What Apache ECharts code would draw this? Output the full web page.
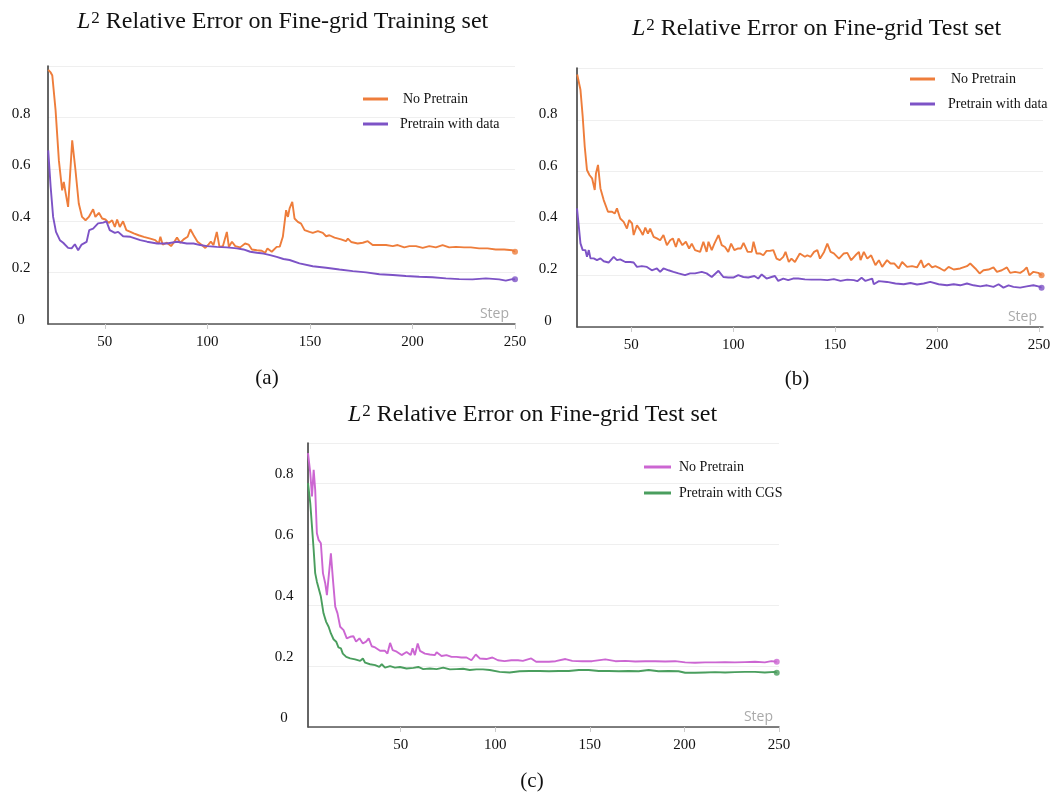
<!DOCTYPE html>
<html>
<head>
<meta charset="utf-8">
<script src="https://cdn.jsdelivr.net/npm/echarts@6/dist/echarts.min.js"></script>
<style>
html,body{margin:0;padding:0;background:#fff;}
#chart{width:1057px;height:795px;}
</style>
</head>
<body>
<div id="chart"></div>
<script>
// ---------- DATA ----------
const stepTicks = [50, 100, 150, 200, 250];
const yTicks = [0, 0.2, 0.4, 0.6, 0.8];

const titleA = 'Relative Error on Fine-grid Training set';
const titleB = 'Relative Error on Fine-grid Test set';
const titleC = 'Relative Error on Fine-grid Test set';
const captions = ['(a)', '(b)', '(c)'];
const legendNames = {
  'a-np': 'No Pretrain', 'a-pd': 'Pretrain with data',
  'b-np': 'No Pretrain', 'b-pd': 'Pretrain with data',
  'c-np': 'No Pretrain', 'c-cgs': 'Pretrain with CGS'
};

// (a) Training set
const trainNoPretrain = [[22.4,0.985],[23.6,0.975],[24.4,0.963],[26.0,0.828],[27.6,0.634],[29.2,0.518],[30.0,0.551],[30.8,0.512],[32.1,0.454],[34.1,0.712],[35.7,0.596],[37.3,0.467],[38.9,0.415],[40.6,0.402],[42.2,0.415],[44.3,0.445],[45.4,0.415],[47.1,0.431],[48.7,0.409],[50.3,0.405],[51.9,0.392],[53.6,0.402],[54.9,0.376],[56.0,0.405],[57.3,0.376],[58.9,0.398],[60.5,0.364],[62.5,0.357],[64.1,0.351],[66.5,0.344],[69.0,0.338],[72.2,0.331],[74.6,0.325],[76.3,0.312],[77.1,0.338],[78.2,0.308],[80.3,0.315],[82.3,0.302],[83.9,0.319],[85.2,0.335],[86.8,0.315],[88.4,0.328],[90.4,0.338],[91.7,0.367],[93.3,0.344],[95.2,0.319],[97.3,0.306],[99.0,0.295],[100.6,0.309],[101.7,0.319],[103.0,0.306],[104.6,0.357],[105.9,0.299],[107.6,0.302],[109.5,0.357],[110.5,0.299],[112.0,0.319],[113.6,0.302],[116.0,0.297],[118.4,0.312],[120.1,0.308],[121.7,0.289],[124.1,0.286],[126.5,0.284],[128.2,0.276],[129.3,0.293],[131.4,0.280],[133.8,0.299],[135.3,0.300],[136.8,0.338],[138.4,0.441],[139.3,0.415],[140.1,0.448],[141.4,0.473],[142.5,0.409],[144.1,0.396],[145.7,0.389],[147.4,0.364],[149.8,0.357],[151.4,0.353],[153.9,0.360],[156.3,0.353],[157.9,0.340],[159.5,0.344],[162.0,0.335],[165.2,0.328],[167.6,0.321],[168.5,0.331],[170.1,0.318],[173.3,0.312],[175.8,0.315],[178.2,0.321],[180.6,0.306],[183.9,0.306],[187.1,0.306],[190.4,0.302],[192.8,0.306],[196.0,0.297],[198.5,0.302],[201.7,0.302],[205.0,0.295],[208.2,0.302],[211.4,0.297],[214.7,0.306],[217.9,0.297],[221.2,0.299],[225.2,0.297],[228.5,0.297],[232.5,0.293],[236.6,0.293],[240.6,0.289],[244.7,0.289],[248.7,0.286],[250,0.280]];
const trainPretrainData = [[22.4,0.673],[23.6,0.531],[24.8,0.415],[26.2,0.357],[28.1,0.325],[29.7,0.315],[32.1,0.295],[33.8,0.293],[35.4,0.309],[37.0,0.286],[38.7,0.308],[41.1,0.318],[42.4,0.364],[44.3,0.370],[46.7,0.390],[49.2,0.393],[50.8,0.398],[52.4,0.364],[54.9,0.353],[56.5,0.357],[58.9,0.340],[62.5,0.338],[67.3,0.325],[70.6,0.319],[75.5,0.312],[80.3,0.312],[85.2,0.319],[90.0,0.312],[93.3,0.312],[96.5,0.306],[99.8,0.302],[104.6,0.299],[109.5,0.297],[114.4,0.293],[117.6,0.289],[120.9,0.280],[124.1,0.276],[127.4,0.273],[130.6,0.267],[133.8,0.260],[137.1,0.252],[140.1,0.248],[144.9,0.235],[151.4,0.224],[157.9,0.218],[164.4,0.211],[170.9,0.205],[177.4,0.200],[183.9,0.193],[190.4,0.190],[196.8,0.186],[203.3,0.183],[209.8,0.181],[216.3,0.177],[222.8,0.174],[229.3,0.173],[235.8,0.177],[242.3,0.173],[245.5,0.168],[248.7,0.174],[250,0.173]];

// (b) Test set, pretrain with data
const testNoPretrain = [[23.5,0.975],[25.1,0.916],[26.2,0.812],[27.2,0.696],[28.3,0.606],[29.5,0.587],[30.8,0.574],[32.1,0.529],[32.7,0.593],[33.7,0.626],[34.9,0.535],[36.5,0.490],[38.6,0.445],[40.6,0.445],[41.9,0.438],[43.0,0.458],[44.6,0.419],[46.3,0.406],[47.9,0.380],[49.0,0.413],[50.4,0.400],[51.2,0.355],[52.8,0.393],[54.4,0.374],[55.7,0.355],[56.9,0.384],[58.2,0.361],[59.3,0.380],[61.0,0.348],[62.6,0.342],[64.2,0.335],[65.8,0.355],[67.5,0.316],[69.1,0.335],[70.4,0.342],[71.9,0.309],[73.2,0.342],[75.1,0.316],[76.8,0.329],[78.4,0.303],[79.7,0.322],[81.3,0.297],[83.8,0.290],[85.4,0.329],[87.0,0.290],[87.9,0.329],[89.5,0.297],[90.8,0.322],[92.8,0.355],[94.4,0.316],[96.0,0.309],[97.6,0.290],[99.0,0.322],[100.6,0.297],[102.2,0.303],[103.8,0.303],[105.1,0.325],[107.1,0.290],[109.1,0.290],[110.0,0.329],[111.5,0.284],[113.1,0.284],[114.8,0.277],[116.4,0.294],[118.0,0.294],[119.7,0.297],[121.3,0.264],[122.9,0.258],[124.6,0.271],[125.7,0.290],[127.3,0.251],[128.6,0.264],[130.3,0.251],[132.7,0.284],[135.2,0.271],[136.4,0.277],[138.0,0.271],[139.7,0.290],[141.3,0.297],[142.6,0.264],[144.6,0.290],[146.2,0.322],[147.8,0.290],[149.4,0.284],[151.9,0.264],[154.3,0.284],[156.0,0.286],[157.9,0.258],[160.0,0.277],[161.7,0.290],[162.5,0.258],[164.1,0.290],[165.8,0.264],[167.7,0.277],[169.8,0.239],[171.5,0.258],[173.1,0.232],[175.5,0.258],[177.2,0.245],[179.1,0.245],[181.2,0.226],[182.9,0.251],[185.3,0.232],[187.8,0.235],[190.2,0.230],[192.2,0.258],[193.5,0.230],[195.9,0.245],[197.6,0.230],[199.2,0.235],[201.6,0.226],[203.6,0.217],[205.7,0.232],[208.2,0.222],[211.4,0.226],[214.7,0.235],[216.3,0.245],[218.8,0.226],[220.9,0.207],[222.8,0.219],[225.3,0.222],[227.7,0.230],[229.4,0.213],[231.8,0.219],[234.3,0.230],[235.9,0.209],[238.3,0.213],[240.8,0.209],[242.4,0.217],[244.0,0.230],[245.3,0.200],[247.3,0.213],[249.7,0.209],[251.3,0.200]];
const testPretrainData = [[23.4,0.458],[24.3,0.387],[25.1,0.323],[26.2,0.297],[27.5,0.297],[28.3,0.271],[29.2,0.297],[30.0,0.265],[31.6,0.265],[33.2,0.258],[34.9,0.265],[36.5,0.254],[38.9,0.249],[41.4,0.271],[43.0,0.258],[44.6,0.261],[47.1,0.251],[49.5,0.251],[51.2,0.249],[52.8,0.232],[55.2,0.235],[57.7,0.232],[60.1,0.219],[62.6,0.226],[64.2,0.213],[65.8,0.226],[68.3,0.219],[70.7,0.213],[73.2,0.207],[76.4,0.200],[78.9,0.207],[81.3,0.207],[84.6,0.213],[87.0,0.207],[89.5,0.193],[92.8,0.217],[95.2,0.193],[97.6,0.191],[100.1,0.191],[102.5,0.200],[105.0,0.193],[107.4,0.191],[110.4,0.197],[112.3,0.187],[114.0,0.203],[116.4,0.187],[118.8,0.193],[120.5,0.197],[122.1,0.178],[124.6,0.187],[127.0,0.181],[129.4,0.187],[131.9,0.187],[135.2,0.184],[138.4,0.183],[142.9,0.183],[146.2,0.181],[149.4,0.185],[152.7,0.178],[156.0,0.183],[159.2,0.181],[160.9,0.177],[163.0,0.190],[164.9,0.178],[168.2,0.187],[169.0,0.165],[171.5,0.177],[175.5,0.174],[179.6,0.168],[183.7,0.165],[187.0,0.170],[190.2,0.164],[193.5,0.168],[196.7,0.174],[200.8,0.165],[204.9,0.161],[208.2,0.165],[211.4,0.161],[214.7,0.168],[217.9,0.161],[221.2,0.157],[224.5,0.161],[227.7,0.155],[230.2,0.165],[232.6,0.152],[235.1,0.161],[237.5,0.155],[240.8,0.152],[244.0,0.157],[247.3,0.161],[249.7,0.157],[251.3,0.152]];

// (c) Test set, pretrain with CGS
const cgsNoPretrain = [[1,0.899],[2.2,0.834],[3.1,0.757],[4.0,0.844],[4.8,0.779],[5.7,0.636],[6.6,0.614],[7.8,0.603],[8.9,0.505],[10.1,0.472],[11.0,0.433],[12.0,0.433],[13.1,0.570],[14.2,0.483],[15.4,0.395],[16.6,0.373],[18.0,0.329],[19.8,0.318],[21.5,0.291],[23.3,0.296],[25.0,0.298],[26.4,0.280],[28.2,0.291],[30.0,0.274],[31.7,0.280],[33.1,0.291],[34.7,0.265],[36.5,0.261],[39.1,0.250],[41.7,0.250],[43.0,0.241],[44.4,0.276],[45.8,0.252],[47.9,0.247],[50.5,0.236],[53.1,0.246],[55.3,0.236],[56.3,0.258],[57.5,0.236],[59.0,0.274],[60.2,0.250],[62.8,0.241],[65.4,0.238],[68.1,0.236],[69.0,0.245],[71.6,0.233],[74.2,0.236],[76.9,0.230],[79.5,0.230],[82.1,0.228],[84.8,0.228],[87.4,0.219],[89.7,0.238],[91.8,0.225],[95.3,0.223],[98.5,0.228],[101.4,0.219],[104.9,0.216],[108.5,0.219],[112.0,0.219],[114.6,0.217],[119.0,0.225],[121.6,0.214],[125.1,0.214],[128.4,0.214],[131.9,0.216],[137.1,0.223],[140.7,0.217],[145.9,0.216],[151.2,0.216],[158.2,0.222],[163.5,0.216],[168.8,0.217],[174.0,0.215],[179.3,0.216],[184.6,0.216],[189.8,0.215],[195.1,0.216],[200.4,0.212],[205.6,0.211],[210.9,0.212],[216.2,0.212],[221.5,0.213],[226.7,0.212],[232.0,0.213],[237.3,0.214],[242.5,0.212],[246.0,0.216],[248.8,0.214]];
const cgsPretrain = [[1,0.800],[2.2,0.735],[3.1,0.658],[4.0,0.581],[4.8,0.505],[5.7,0.477],[6.6,0.472],[7.8,0.428],[9.2,0.373],[10.6,0.345],[11.9,0.329],[13.1,0.307],[14.5,0.288],[15.9,0.280],[17.1,0.261],[18.4,0.258],[19.4,0.241],[21.2,0.230],[23.3,0.225],[25.9,0.222],[28.6,0.217],[30.0,0.225],[31.2,0.211],[33.8,0.206],[36.5,0.203],[38.7,0.197],[40.0,0.206],[41.7,0.195],[44.4,0.200],[47.0,0.195],[49.6,0.197],[53.1,0.192],[56.7,0.194],[59.3,0.197],[61.9,0.190],[65.4,0.192],[69.0,0.190],[72.5,0.195],[76.0,0.189],[79.5,0.190],[83.0,0.191],[86.5,0.187],[90.0,0.189],[93.5,0.189],[97.1,0.187],[102.3,0.181],[107.6,0.179],[112.9,0.183],[118.1,0.184],[123.4,0.184],[128.4,0.183],[133.6,0.184],[138.9,0.184],[144.2,0.187],[149.4,0.187],[154.7,0.184],[160.0,0.184],[165.3,0.183],[170.5,0.184],[175.8,0.183],[181.1,0.187],[186.3,0.183],[191.6,0.184],[196.9,0.183],[200.4,0.178],[205.6,0.178],[210.9,0.179],[216.2,0.180],[221.5,0.179],[226.7,0.180],[232.0,0.181],[237.3,0.181],[242.5,0.179],[247.8,0.181],[248.8,0.178]];

// ---------- STYLE ----------
const SERIF = 'Liberation Serif, Times New Roman, serif';
const SANS = 'Open Sans, Noto Sans, sans-serif';
const C_ORANGE = '#EE7D3B', C_PURPLE = '#7D53C6', C_PINK = '#CC66D2', C_GREEN = '#4A9E5E';

const chart = echarts.init(document.getElementById('chart'), null, {renderer: 'canvas'});

function titleOpt(text, left, top) {
  return {
    text: '{it|L}{sup|2} ' + text, left: left, top: top, padding: 0,
    textStyle: {
      fontFamily: SERIF, fontSize: 24, fontWeight: 'normal', color: '#111',
      rich: {
        it: {fontFamily: SERIF, fontStyle: 'italic', fontSize: 24, color: '#111'},
        sup: {fontFamily: SERIF, fontSize: 17, color: '#111', verticalAlign: 'top', padding: [0, 0, 0, 1]}
      }
    }
  };
}

function xAxisOpt(idx, min, max) {
  return {
    type: 'value', gridIndex: idx, min: min, max: max,
    name: 'Step', nameLocation: 'end', nameGap: -6,
    nameTextStyle: {fontFamily: SANS, fontSize: 14, color: '#aaa', align: 'right', verticalAlign: 'bottom', padding: [0, 0, 3, 0]},
    axisLine: {show: true, onZero: false, lineStyle: {color: '#555', width: 1.5}},
    axisTick: {show: true, customValues: stepTicks, length: 5, lineStyle: {color: '#ccc'}},
    axisLabel: {customValues: stepTicks, fontFamily: SERIF, fontSize: 15, color: '#111', margin: 11},
    splitLine: {show: false}
  };
}

function yAxisOpt(idx, max, margin, lh) {
  return {
    type: 'value', gridIndex: idx, min: 0, max: max, interval: 0.2,
    axisLine: {show: true, lineStyle: {color: '#333', width: 1.5}},
    axisTick: {show: false},
    axisLabel: {customValues: yTicks, fontFamily: SERIF, fontSize: 15, color: '#111', align: 'center', margin: margin, verticalAlign: 'bottom', lineHeight: lh},
    splitLine: {show: true, lineStyle: {color: '#efefef', width: 1}}
  };
}

function lineSeries(name, data, color, idx) {
  return [{
    name: name, type: 'line', data: data, xAxisIndex: idx, yAxisIndex: idx,
    showSymbol: false, symbol: 'none', color: color,
    lineStyle: {color: color, width: 1.9}, silent: true, z: 3
  }, {
    name: name, type: 'scatter', data: [data[data.length - 1]], xAxisIndex: idx, yAxisIndex: idx,
    symbol: 'circle', symbolSize: 6, itemStyle: {color: color}, silent: true, z: 4
  }];
}

function legendOpt(names, left, top, gap, width, pads) {
  return {
    orient: 'vertical', left: left, top: top, padding: 0, itemGap: gap,
    itemWidth: width, itemHeight: 3, icon: 'rect',
    data: names.map((n, i) => ({name: n, textStyle: {padding: [0, 0, 0, pads[i]]}})),
    formatter: n => legendNames[n],
    textStyle: {fontFamily: SERIF, fontSize: 14, color: '#111', lineHeight: 16},
    selectedMode: false
  };
}

const option = {
  backgroundColor: '#fff',
  animation: false,
  title: [
    titleOpt(titleA, 77, 10),
    titleOpt(titleB, 632, 17),
    titleOpt(titleC, 348, 403)
  ],
  grid: [
    {left: 48, top: 66, width: 467, height: 258, containLabel: false},
    {left: 577, top: 68, width: 466, height: 259, containLabel: false},
    {left: 308, top: 443, width: 471, height: 284, containLabel: false}
  ],
  xAxis: [xAxisOpt(0, 22.3, 250), xAxisOpt(1, 23.4, 252), xAxisOpt(2, 1, 250)],
  yAxis: [yAxisOpt(0, 1, 27, 8), yAxisOpt(1, 1, 29, 12), yAxisOpt(2, 0.932, 24, 18)],
  legend: [
    legendOpt(['a-np', 'a-pd'], 363, 91, 9, 25, [10, 7]),
    legendOpt(['b-np', 'b-pd'], 910, 71, 9, 25, [11, 8]),
    legendOpt(['c-np', 'c-cgs'], 644, 459, 10, 27, [3, 3])
  ],
  graphic: [
    {type: 'text', x: 267, y: 378, style: {text: captions[0], font: '21px ' + SERIF, fill: '#111', textAlign: 'center', textVerticalAlign: 'middle'}},
    {type: 'text', x: 797, y: 379, style: {text: captions[1], font: '21px ' + SERIF, fill: '#111', textAlign: 'center', textVerticalAlign: 'middle'}},
    {type: 'text', x: 532, y: 781, style: {text: captions[2], font: '21px ' + SERIF, fill: '#111', textAlign: 'center', textVerticalAlign: 'middle'}}
  ],
  series: [].concat(
    lineSeries('a-np', trainNoPretrain, C_ORANGE, 0),
    lineSeries('a-pd', trainPretrainData, C_PURPLE, 0),
    lineSeries('b-np', testNoPretrain, C_ORANGE, 1),
    lineSeries('b-pd', testPretrainData, C_PURPLE, 1),
    lineSeries('c-np', cgsNoPretrain, C_PINK, 2),
    lineSeries('c-cgs', cgsPretrain, C_GREEN, 2)
  )
};
chart.setOption(option);
</script>
</body>
</html>
